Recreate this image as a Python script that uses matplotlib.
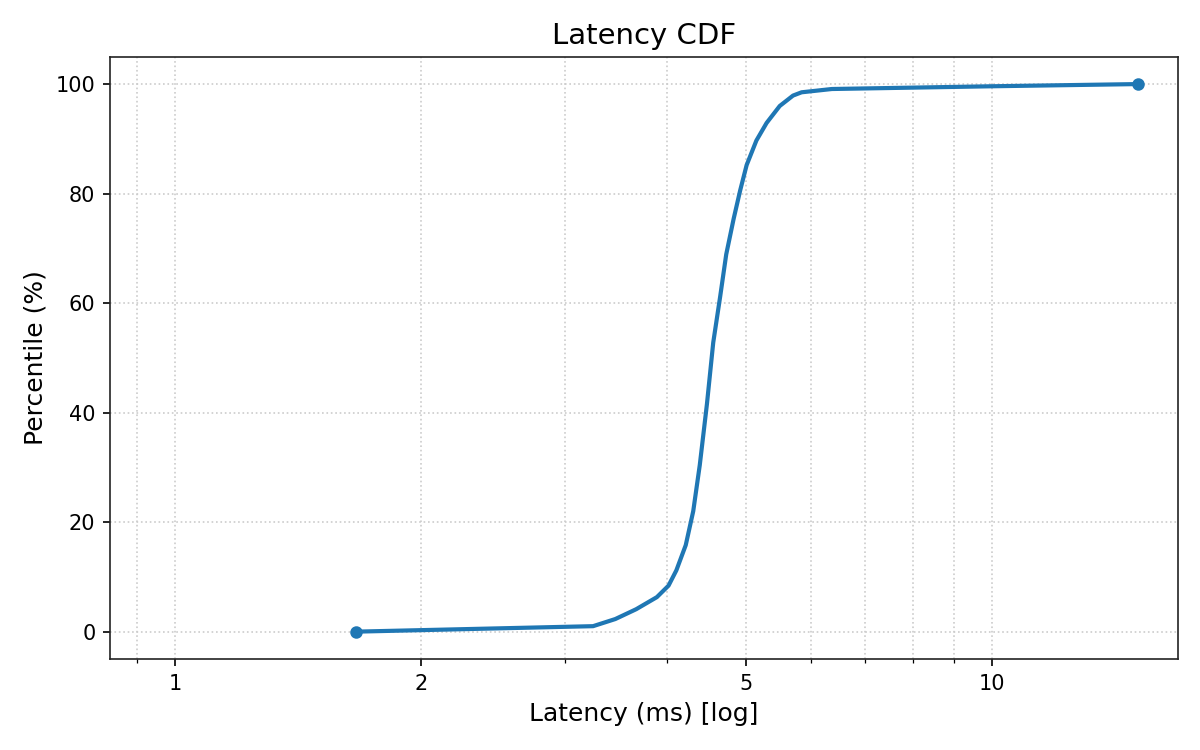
import matplotlib
matplotlib.use("Agg")
import matplotlib.pyplot as plt
from matplotlib.ticker import FixedLocator, NullFormatter

# latency (ms) vs percentile
latency_ms = [1.666, 3.25, 3.46, 3.67, 3.89, 4.02, 4.11, 4.22, 4.31, 4.39, 4.48,
              4.56, 4.65, 4.73, 4.83, 4.92, 5.01, 5.15, 5.30, 5.50, 5.71, 5.85,
              6.37, 10.0, 15.09]
percentile = [0.0, 1.0, 2.3, 4.1, 6.3, 8.4, 11.2, 15.8, 22.0, 30.4, 41.6,
              52.8, 61.2, 68.9, 75.4, 80.6, 85.2, 89.7, 92.9, 96.0, 97.9, 98.5,
              99.1, 99.6, 100.0]
major_ticks = [1, 2, 5, 10]
major_labels = ["1", "2", "5", "10"]
minor_ticks = [0.9, 3, 4, 6, 7, 8, 9]

fig, ax = plt.subplots(figsize=(8, 5), dpi=150)
ax.plot(latency_ms, percentile, color="#1f77b4", lw=2,
        marker="o", markersize=5, markevery=[0, len(latency_ms) - 1])

ax.set_xscale("log")
ax.set_xlim(0.833, 16.9)
ax.set_ylim(-5, 105)
ax.xaxis.set_major_locator(FixedLocator(major_ticks))
ax.set_xticklabels(major_labels)
ax.xaxis.set_minor_locator(FixedLocator(minor_ticks))
ax.xaxis.set_minor_formatter(NullFormatter())

ax.grid(True, which="both", linestyle=":", color="#cccccc", linewidth=0.8)
for s in ax.spines.values():
    s.set_color("#222222")

ax.set_title("Latency CDF", fontsize=14)
ax.set_xlabel("Latency (ms) [log]", fontsize=12)
ax.set_ylabel("Percentile (%)", fontsize=12)

fig.subplots_adjust(left=0.0917, right=0.9817, bottom=0.1213, top=0.9244)
fig.savefig("out.png")
